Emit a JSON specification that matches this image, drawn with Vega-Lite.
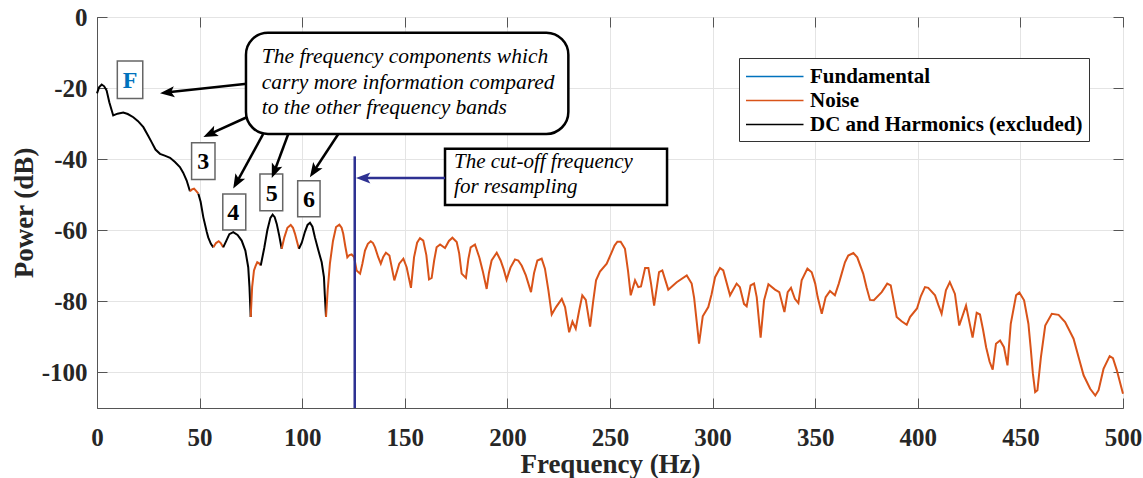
{
  "$schema": "https://vega.github.io/schema/vega-lite/v6.json",
  "width": 1026,
  "height": 391,
  "autosize": {"type": "none"},
  "padding": {"left": 97, "top": 17, "right": 20, "bottom": 70},
  "background": "white",
  "datasets": {
    "spec": [
      {"f":0,"p":-21.5,"s":"d1","t":"D"},{"f":1,"p":-19.8,"s":"d1","t":"D"},{"f":2.3,"p":-19,"s":"d1","t":"D"},{"f":3.5,"p":-19.5,"s":"d1","t":"D"},{"f":4.7,"p":-20.7,"s":"d1","t":"D"},{"f":6,"p":-24,"s":"d1","t":"D"},{"f":7.9,"p":-27.7,"s":"d1","t":"D"},{"f":10,"p":-27.2,"s":"d1","t":"D"},{"f":12.8,"p":-26.9,"s":"d1","t":"D"},{"f":15,"p":-27.3,"s":"d1","t":"D"},{"f":17.7,"p":-28.2,"s":"d1","t":"D"},{"f":20,"p":-29.3,"s":"d1","t":"D"},{"f":22.6,"p":-31,"s":"d1","t":"D"},{"f":25,"p":-33.5,"s":"d1","t":"D"},{"f":26.6,"p":-35.2,"s":"d1","t":"D"},{"f":28.5,"p":-37.3,"s":"d1","t":"D"},{"f":30.7,"p":-38.5,"s":"d1","t":"D"},{"f":33,"p":-39,"s":"d1","t":"D"},{"f":35.6,"p":-39.6,"s":"d1","t":"D"},{"f":38,"p":-40.8,"s":"d1","t":"D"},{"f":40.4,"p":-42.2,"s":"d1","t":"D"},{"f":42,"p":-43.8,"s":"d1","t":"D"},{"f":43.7,"p":-46,"s":"d1","t":"D"},{"f":45.3,"p":-49,"s":"d1","t":"D"},
      {"f":45.3,"p":-49,"s":"n1","t":"N"},{"f":46.3,"p":-48.5,"s":"n1","t":"N"},{"f":47.3,"p":-48.3,"s":"n1","t":"N"},{"f":48.4,"p":-49,"s":"n1","t":"N"},{"f":49.4,"p":-49.7,"s":"n1","t":"N"},
      {"f":49.4,"p":-49.7,"s":"d2","t":"D"},{"f":50.5,"p":-52,"s":"d2","t":"D"},{"f":51.8,"p":-56.3,"s":"d2","t":"D"},{"f":53.5,"p":-60.5,"s":"d2","t":"D"},{"f":54.2,"p":-62,"s":"d2","t":"D"},{"f":55.5,"p":-63.8,"s":"d2","t":"D"},{"f":56.7,"p":-64.8,"s":"d2","t":"D"},
      {"f":56.7,"p":-64.8,"s":"n2","t":"N"},{"f":58,"p":-63.6,"s":"n2","t":"N"},{"f":59.3,"p":-63.1,"s":"n2","t":"N"},{"f":60.3,"p":-63.6,"s":"n2","t":"N"},{"f":61.5,"p":-64.8,"s":"n2","t":"N"},
      {"f":61.5,"p":-64.8,"s":"d3","t":"D"},{"f":63,"p":-63,"s":"d3","t":"D"},{"f":64.5,"p":-61.1,"s":"d3","t":"D"},{"f":66.4,"p":-60.5,"s":"d3","t":"D"},{"f":68.5,"p":-61.3,"s":"d3","t":"D"},{"f":70.5,"p":-62.9,"s":"d3","t":"D"},{"f":72.3,"p":-65.7,"s":"d3","t":"D"},{"f":73.7,"p":-70.4,"s":"d3","t":"D"},{"f":74.3,"p":-76,"s":"d3","t":"D"},{"f":74.9,"p":-84.4,"s":"d3","t":"D"},
      {"f":74.9,"p":-84.4,"s":"n3","t":"N"},{"f":75.6,"p":-76,"s":"n3","t":"N"},{"f":76.5,"p":-71.3,"s":"n3","t":"N"},{"f":77.3,"p":-70,"s":"n3","t":"N"},{"f":78.1,"p":-69,"s":"n3","t":"N"},{"f":79,"p":-69.3,"s":"n3","t":"N"},{"f":79.8,"p":-69.9,"s":"n3","t":"N"},
      {"f":79.8,"p":-69.9,"s":"d4","t":"D"},{"f":81.5,"p":-65,"s":"d4","t":"D"},{"f":83,"p":-60,"s":"d4","t":"D"},{"f":84.5,"p":-56.5,"s":"d4","t":"D"},{"f":85.6,"p":-55.6,"s":"d4","t":"D"},{"f":86.6,"p":-56.3,"s":"d4","t":"D"},{"f":87.6,"p":-58.2,"s":"d4","t":"D"},{"f":88.8,"p":-61.5,"s":"d4","t":"D"},{"f":90,"p":-65.2,"s":"d4","t":"D"},
      {"f":90,"p":-65.2,"s":"n4","t":"N"},{"f":91.3,"p":-62,"s":"n4","t":"N"},{"f":92.8,"p":-59.3,"s":"n4","t":"N"},{"f":94.4,"p":-58.5,"s":"n4","t":"N"},{"f":95.5,"p":-59.3,"s":"n4","t":"N"},{"f":96.5,"p":-61,"s":"n4","t":"N"},{"f":97.5,"p":-63.2,"s":"n4","t":"N"},{"f":98.4,"p":-65.2,"s":"n4","t":"N"},
      {"f":98.4,"p":-65.2,"s":"d5","t":"D"},{"f":99.8,"p":-63.5,"s":"d5","t":"D"},{"f":101.3,"p":-60.5,"s":"d5","t":"D"},{"f":102.6,"p":-58.5,"s":"d5","t":"D"},{"f":103.8,"p":-57.9,"s":"d5","t":"D"},{"f":105,"p":-59,"s":"d5","t":"D"},{"f":106.2,"p":-62,"s":"d5","t":"D"},{"f":107.8,"p":-65.5,"s":"d5","t":"D"},{"f":109.5,"p":-69,"s":"d5","t":"D"},{"f":110.6,"p":-73.2,"s":"d5","t":"D"},{"f":111,"p":-78,"s":"d5","t":"D"},{"f":111.6,"p":-84.4,"s":"d5","t":"D"},
      {"f":111.6,"p":-84.4,"s":"n5","t":"N"},{"f":112.4,"p":-77,"s":"n5","t":"N"},{"f":113.5,"p":-69.4,"s":"n5","t":"N"},{"f":115,"p":-63,"s":"n5","t":"N"},{"f":116.5,"p":-59.1,"s":"n5","t":"N"},{"f":118.1,"p":-58.4,"s":"n5","t":"N"},{"f":119.2,"p":-59.3,"s":"n5","t":"N"},{"f":120,"p":-61,"s":"n5","t":"N"},{"f":121,"p":-64.5,"s":"n5","t":"N"},{"f":122,"p":-67.6,"s":"n5","t":"N"},{"f":123,"p":-67,"s":"n5","t":"N"},{"f":124.1,"p":-66.8,"s":"n5","t":"N"},{"f":125.3,"p":-67.5,"s":"n5","t":"N"},{"f":126.5,"p":-71.3,"s":"n5","t":"N"},{"f":128.2,"p":-72.2,"s":"n5","t":"N"},{"f":129.3,"p":-69.5,"s":"n5","t":"N"},{"f":130.6,"p":-65.7,"s":"n5","t":"N"},{"f":132,"p":-63.8,"s":"n5","t":"N"},{"f":133.4,"p":-63.1,"s":"n5","t":"N"},{"f":134.5,"p":-63.6,"s":"n5","t":"N"},{"f":135.5,"p":-64.8,"s":"n5","t":"N"},{"f":137,"p":-67.5,"s":"n5","t":"N"},{"f":138.3,"p":-69.4,"s":"n5","t":"N"},{"f":139.5,"p":-67.5,"s":"n5","t":"N"},{"f":140.8,"p":-66.3,"s":"n5","t":"N"},{"f":142.5,"p":-67.1,"s":"n5","t":"N"},{"f":144.9,"p":-74.1,"s":"n5","t":"N"},{"f":147.3,"p":-69.4,"s":"n5","t":"N"},{"f":149.3,"p":-68,"s":"n5","t":"N"},{"f":150.9,"p":-70.4,"s":"n5","t":"N"},{"f":153,"p":-76.2,"s":"n5","t":"N"},{"f":154.5,"p":-67.6,"s":"n5","t":"N"},{"f":156,"p":-63.5,"s":"n5","t":"N"},{"f":157.4,"p":-62.2,"s":"n5","t":"N"},{"f":159,"p":-62.9,"s":"n5","t":"N"},{"f":160.5,"p":-67,"s":"n5","t":"N"},{"f":161.8,"p":-73.8,"s":"n5","t":"N"},{"f":163.1,"p":-73.4,"s":"n5","t":"N"},{"f":164.3,"p":-68.5,"s":"n5","t":"N"},{"f":165.5,"p":-64.8,"s":"n5","t":"N"},{"f":167.2,"p":-64,"s":"n5","t":"N"},{"f":169.6,"p":-65,"s":"n5","t":"N"},{"f":171.5,"p":-63,"s":"n5","t":"N"},{"f":173.2,"p":-62.1,"s":"n5","t":"N"},{"f":175.3,"p":-63.3,"s":"n5","t":"N"},{"f":176.5,"p":-66.5,"s":"n5","t":"N"},{"f":177.7,"p":-72.2,"s":"n5","t":"N"},{"f":179.8,"p":-73.4,"s":"n5","t":"N"},{"f":181,"p":-68,"s":"n5","t":"N"},{"f":182.1,"p":-64.8,"s":"n5","t":"N"},{"f":184.2,"p":-64,"s":"n5","t":"N"},{"f":186.3,"p":-67.6,"s":"n5","t":"N"},{"f":188,"p":-71.5,"s":"n5","t":"N"},{"f":189.9,"p":-76.5,"s":"n5","t":"N"},{"f":191,"p":-72,"s":"n5","t":"N"},{"f":192.3,"p":-68.5,"s":"n5","t":"N"},{"f":194.8,"p":-66.3,"s":"n5","t":"N"},{"f":196.7,"p":-68.5,"s":"n5","t":"N"},{"f":198.2,"p":-71,"s":"n5","t":"N"},{"f":199.6,"p":-73.9,"s":"n5","t":"N"},{"f":201.5,"p":-70.5,"s":"n5","t":"N"},{"f":203.7,"p":-68.2,"s":"n5","t":"N"},{"f":205.3,"p":-68.5,"s":"n5","t":"N"},{"f":207,"p":-70,"s":"n5","t":"N"},{"f":209,"p":-72.7,"s":"n5","t":"N"},{"f":211.5,"p":-77.4,"s":"n5","t":"N"},{"f":213,"p":-72,"s":"n5","t":"N"},{"f":214.6,"p":-68.5,"s":"n5","t":"N"},{"f":216.7,"p":-68,"s":"n5","t":"N"},{"f":218.3,"p":-70.8,"s":"n5","t":"N"},{"f":220,"p":-77,"s":"n5","t":"N"},{"f":221.6,"p":-83.7,"s":"n5","t":"N"},{"f":223.7,"p":-81.6,"s":"n5","t":"N"},{"f":226.5,"p":-79.3,"s":"n5","t":"N"},{"f":228.1,"p":-81.6,"s":"n5","t":"N"},{"f":230.1,"p":-88.7,"s":"n5","t":"N"},{"f":231.7,"p":-85.7,"s":"n5","t":"N"},{"f":233.3,"p":-87.7,"s":"n5","t":"N"},{"f":235,"p":-82.5,"s":"n5","t":"N"},{"f":236.5,"p":-78.3,"s":"n5","t":"N"},{"f":238.2,"p":-79.6,"s":"n5","t":"N"},{"f":240.3,"p":-87.1,"s":"n5","t":"N"},{"f":241.8,"p":-80,"s":"n5","t":"N"},{"f":243.2,"p":-74.1,"s":"n5","t":"N"},{"f":245.1,"p":-71.6,"s":"n5","t":"N"},{"f":248.4,"p":-69.4,"s":"n5","t":"N"},{"f":250.8,"p":-66.2,"s":"n5","t":"N"},{"f":252.2,"p":-64.3,"s":"n5","t":"N"},{"f":253.6,"p":-63.2,"s":"n5","t":"N"},{"f":255.2,"p":-63.2,"s":"n5","t":"N"},{"f":257.3,"p":-65.2,"s":"n5","t":"N"},{"f":258.8,"p":-71.5,"s":"n5","t":"N"},{"f":260.1,"p":-78.3,"s":"n5","t":"N"},{"f":262.2,"p":-74.1,"s":"n5","t":"N"},{"f":263.8,"p":-76,"s":"n5","t":"N"},{"f":265.1,"p":-75.8,"s":"n5","t":"N"},{"f":267.1,"p":-70.6,"s":"n5","t":"N"},{"f":268.7,"p":-70.6,"s":"n5","t":"N"},{"f":270,"p":-75,"s":"n5","t":"N"},{"f":271.5,"p":-81.2,"s":"n5","t":"N"},{"f":273.9,"p":-71.8,"s":"n5","t":"N"},{"f":275.5,"p":-71.3,"s":"n5","t":"N"},{"f":278.4,"p":-76.7,"s":"n5","t":"N"},{"f":282.5,"p":-74.6,"s":"n5","t":"N"},{"f":287.4,"p":-72.7,"s":"n5","t":"N"},{"f":289.8,"p":-75,"s":"n5","t":"N"},{"f":291,"p":-79,"s":"n5","t":"N"},{"f":292.2,"p":-85.4,"s":"n5","t":"N"},{"f":293.4,"p":-91.9,"s":"n5","t":"N"},{"f":295.2,"p":-84.2,"s":"n5","t":"N"},{"f":297.9,"p":-81.6,"s":"n5","t":"N"},{"f":299.5,"p":-78,"s":"n5","t":"N"},{"f":301.2,"p":-73.2,"s":"n5","t":"N"},{"f":303.6,"p":-70.6,"s":"n5","t":"N"},{"f":305.2,"p":-71.3,"s":"n5","t":"N"},{"f":308.5,"p":-78.3,"s":"n5","t":"N"},{"f":311.7,"p":-75,"s":"n5","t":"N"},{"f":313.3,"p":-76,"s":"n5","t":"N"},{"f":315.3,"p":-80.7,"s":"n5","t":"N"},{"f":316.6,"p":-81.4,"s":"n5","t":"N"},{"f":318.5,"p":-75.5,"s":"n5","t":"N"},{"f":320.2,"p":-75,"s":"n5","t":"N"},{"f":321.5,"p":-78.8,"s":"n5","t":"N"},{"f":323.4,"p":-90.2,"s":"n5","t":"N"},{"f":325.1,"p":-79.7,"s":"n5","t":"N"},{"f":327.2,"p":-75.2,"s":"n5","t":"N"},{"f":330.4,"p":-76.7,"s":"n5","t":"N"},{"f":332.5,"p":-77.4,"s":"n5","t":"N"},{"f":335,"p":-83,"s":"n5","t":"N"},{"f":336.6,"p":-77.4,"s":"n5","t":"N"},{"f":338.2,"p":-76.2,"s":"n5","t":"N"},{"f":340.1,"p":-79.3,"s":"n5","t":"N"},{"f":341.8,"p":-80.5,"s":"n5","t":"N"},{"f":343.4,"p":-74.1,"s":"n5","t":"N"},{"f":346.2,"p":-70.8,"s":"n5","t":"N"},{"f":348.3,"p":-71.8,"s":"n5","t":"N"},{"f":350,"p":-75,"s":"n5","t":"N"},{"f":351.2,"p":-78.8,"s":"n5","t":"N"},{"f":353.2,"p":-83.5,"s":"n5","t":"N"},{"f":355.1,"p":-78.8,"s":"n5","t":"N"},{"f":357.2,"p":-77.1,"s":"n5","t":"N"},{"f":359.6,"p":-78.3,"s":"n5","t":"N"},{"f":361.5,"p":-75,"s":"n5","t":"N"},{"f":362.9,"p":-72.2,"s":"n5","t":"N"},{"f":364.5,"p":-69,"s":"n5","t":"N"},{"f":366.1,"p":-67.1,"s":"n5","t":"N"},{"f":368.6,"p":-66.4,"s":"n5","t":"N"},{"f":370.5,"p":-67.6,"s":"n5","t":"N"},{"f":373.4,"p":-72.2,"s":"n5","t":"N"},{"f":375,"p":-76,"s":"n5","t":"N"},{"f":376.7,"p":-79.6,"s":"n5","t":"N"},{"f":378.6,"p":-79.7,"s":"n5","t":"N"},{"f":382.4,"p":-77.4,"s":"n5","t":"N"},{"f":385.1,"p":-75,"s":"n5","t":"N"},{"f":386.8,"p":-75.5,"s":"n5","t":"N"},{"f":388.3,"p":-80,"s":"n5","t":"N"},{"f":389.7,"p":-84.4,"s":"n5","t":"N"},{"f":392.1,"p":-85.6,"s":"n5","t":"N"},{"f":394.6,"p":-86.6,"s":"n5","t":"N"},{"f":396.2,"p":-84.4,"s":"n5","t":"N"},{"f":399.6,"p":-82,"s":"n5","t":"N"},{"f":401.5,"p":-78.5,"s":"n5","t":"N"},{"f":403.5,"p":-76,"s":"n5","t":"N"},{"f":405.1,"p":-76.2,"s":"n5","t":"N"},{"f":408.4,"p":-78.3,"s":"n5","t":"N"},{"f":410,"p":-81,"s":"n5","t":"N"},{"f":411.6,"p":-83.5,"s":"n5","t":"N"},{"f":413.7,"p":-76.9,"s":"n5","t":"N"},{"f":415.6,"p":-74.6,"s":"n5","t":"N"},{"f":418.1,"p":-77.9,"s":"n5","t":"N"},{"f":420.2,"p":-86.8,"s":"n5","t":"N"},{"f":423.5,"p":-81.2,"s":"n5","t":"N"},{"f":426.7,"p":-90.2,"s":"n5","t":"N"},{"f":428.7,"p":-83.2,"s":"n5","t":"N"},{"f":430.3,"p":-83.7,"s":"n5","t":"N"},{"f":431.8,"p":-88,"s":"n5","t":"N"},{"f":433.3,"p":-92.9,"s":"n5","t":"N"},{"f":435,"p":-97,"s":"n5","t":"N"},{"f":436.5,"p":-99.2,"s":"n5","t":"N"},{"f":438.1,"p":-91.9,"s":"n5","t":"N"},{"f":440.1,"p":-91,"s":"n5","t":"N"},{"f":442,"p":-92.9,"s":"n5","t":"N"},{"f":443.7,"p":-98,"s":"n5","t":"N"},{"f":445.3,"p":-86.3,"s":"n5","t":"N"},{"f":447.9,"p":-78.3,"s":"n5","t":"N"},{"f":449.5,"p":-77.5,"s":"n5","t":"N"},{"f":451.8,"p":-79.7,"s":"n5","t":"N"},{"f":453.9,"p":-86.3,"s":"n5","t":"N"},{"f":455,"p":-93,"s":"n5","t":"N"},{"f":456.1,"p":-100.4,"s":"n5","t":"N"},{"f":457.2,"p":-105.5,"s":"n5","t":"N"},{"f":458.3,"p":-105,"s":"n5","t":"N"},{"f":460,"p":-95.7,"s":"n5","t":"N"},{"f":462.1,"p":-86.8,"s":"n5","t":"N"},{"f":465.3,"p":-83.5,"s":"n5","t":"N"},{"f":468.6,"p":-83.8,"s":"n5","t":"N"},{"f":471.8,"p":-85.8,"s":"n5","t":"N"},{"f":475.9,"p":-90.5,"s":"n5","t":"N"},{"f":478.5,"p":-96,"s":"n5","t":"N"},{"f":480.8,"p":-100.8,"s":"n5","t":"N"},{"f":484,"p":-104.6,"s":"n5","t":"N"},{"f":486.5,"p":-106.5,"s":"n5","t":"N"},{"f":488.1,"p":-105,"s":"n5","t":"N"},{"f":490.5,"p":-99,"s":"n5","t":"N"},{"f":493.5,"p":-95.4,"s":"n5","t":"N"},{"f":495.1,"p":-96,"s":"n5","t":"N"},{"f":497,"p":-99.4,"s":"n5","t":"N"},{"f":500,"p":-106,"s":"n5","t":"N"}
    ],
    "cut": [{"f": 125.6, "p": -39.2, "p2": -110}],
    "callout": [{"f": 72.6, "f2": 229.7, "p": -4.42, "p2": -32.9}],
    "cutbox": [{"f": 169.6, "f2": 277.8, "p": -37.1, "p2": -52.9}],
    "boxes": [
      {"f": 9.9, "f2": 22.3, "p": -12.4, "p2": -22.9},
      {"f": 46.1, "f2": 57.5, "p": -35.4, "p2": -45.7},
      {"f": 61.3, "f2": 72.5, "p": -49.8, "p2": -59.9},
      {"f": 79.4, "f2": 90.5, "p": -44.2, "p2": -54.5},
      {"f": 97.8, "f2": 108.7, "p": -46.1, "p2": -56.2}
    ],
    "nums": [
      {"f": 51.8, "p": -42.85, "txt": "3"},
      {"f": 66.4, "p": -57.1, "txt": "4"},
      {"f": 85.1, "p": -51.7, "txt": "5"},
      {"f": 103.3, "p": -53.5, "txt": "6"}
    ],
    "flab": [{"f": 16.1, "p": -20.06, "txt": "F"}],
    "callouttext": [
      {"f": 80.3, "p": -13.03, "txt": "The frequency components which"},
      {"f": 80.3, "p": -20.34, "txt": "carry more information compared"},
      {"f": 80.3, "p": -27.37, "txt": "to the other frequency bands"}
    ],
    "cuttext": [
      {"f": 174.0, "p": -42.57, "txt": "The cut-off frequency"},
      {"f": 174.0, "p": -49.6, "txt": "for resampling"}
    ],
    "arrows": [
      {"f": 73.0, "p": -18.8, "f2": 34.6, "p2": -21.2, "ang": 264.1},
      {"f": 73.0, "p": -28.2, "f2": 55.4, "p2": -32.8, "ang": 245.6},
      {"f": 81.0, "p": -32.9, "f2": 68.3, "p2": -46.3, "ang": 209.4},
      {"f": 93.2, "p": -32.9, "f2": 86.6, "p2": -43.2, "ang": 201.6},
      {"f": 117.6, "p": -32.9, "f2": 105.9, "p2": -43.2, "ang": 213.7}
    ],
    "bluearrow": [{"f": 169.6, "p": -45.3, "f2": 130.1, "p2": -45.3, "ang": 270}]
  },
  "resolve": {"axis": {"x": "independent", "y": "independent"}},
  "layer": [
    {
      "data": {"name": "spec"},
      "mark": {"type": "line", "strokeWidth": 2},
      "encoding": {
        "x": {"field": "f", "type": "quantitative",
          "scale": {"domain": [0, 500], "nice": false, "zero": false},
          "axis": {"orient": "bottom", "values": [0,50,100,150,200,250,300,350,400,450,500], "grid": true, "labelPadding": 27, "title": "Frequency (Hz)", "titlePadding": 1, "labelExpr": "'' + datum.value"}},
        "y": {"field": "p", "type": "quantitative",
          "scale": {"domain": [-110, 0], "nice": false, "zero": false},
          "axis": {"orient": "left", "values": [-100,-80,-60,-40,-20,0], "grid": true, "labelPadding": 20, "title": "Power (dB)", "titlePadding": 3, "labelExpr": "'' + datum.value"}},
        "color": {"field": "t", "type": "nominal",
          "scale": {"domain": ["F", "N", "D"], "range": ["#0072BD", "#D95319", "#000000"]},
          "legend": {"title": null, "orient": "none", "legendX": 642, "legendY": 41,
            "symbolType": "M-1,0H4", "symbolSize": 529, "symbolStrokeWidth": 1.3,
            "labelOffset": 40, "labelFont": "Liberation Serif", "labelFontWeight": "bold", "labelFontSize": 21, "labelColor": "#000000",
            "labelLimit": 400, "padding": 6, "rowPadding": 1, "strokeColor": "#333333", "fillColor": "white",
            "labelExpr": "datum.label == 'F' ? 'Fundamental' : datum.label == 'N' ? 'Noise' : 'DC and Harmonics (excluded)'"}},
        "detail": {"field": "s"}
      }
    },
    {
      "data": {"name": "cut"},
      "mark": {"type": "rule", "color": "#2E3192", "strokeWidth": 2.5},
      "encoding": {
        "x": {"field": "f", "type": "quantitative",
          "axis": {"orient": "top", "values": [0,50,100,150,200,250,300,350,400,450,500], "labels": false, "grid": false, "domain": false, "title": null}},
        "y": {"field": "p", "type": "quantitative",
          "axis": {"orient": "right", "values": [-100,-80,-60,-40,-20,0], "labels": false, "grid": false, "domain": false, "title": null}},
        "y2": {"field": "p2"}
      }
    },
    {
      "data": {"name": "callout"},
      "mark": {"type": "rect", "fill": "white", "stroke": "black", "strokeWidth": 2.5, "cornerRadius": 22},
      "encoding": {
        "x": {"field": "f", "type": "quantitative", "axis": null}, "x2": {"field": "f2"},
        "y": {"field": "p", "type": "quantitative", "axis": null}, "y2": {"field": "p2"}
      }
    },
    {
      "data": {"name": "cutbox"},
      "mark": {"type": "rect", "fill": "white", "stroke": "black", "strokeWidth": 2.5},
      "encoding": {
        "x": {"field": "f", "type": "quantitative", "axis": null}, "x2": {"field": "f2"},
        "y": {"field": "p", "type": "quantitative", "axis": null}, "y2": {"field": "p2"}
      }
    },
    {
      "data": {"name": "boxes"},
      "mark": {"type": "rect", "fill": "white", "stroke": "#666666", "strokeWidth": 1.5},
      "encoding": {
        "x": {"field": "f", "type": "quantitative", "axis": null}, "x2": {"field": "f2"},
        "y": {"field": "p", "type": "quantitative", "axis": null}, "y2": {"field": "p2"}
      }
    },
    {
      "data": {"name": "arrows"},
      "mark": {"type": "rule", "color": "black", "strokeWidth": 2.5},
      "encoding": {
        "x": {"field": "f", "type": "quantitative", "axis": null}, "x2": {"field": "f2"},
        "y": {"field": "p", "type": "quantitative", "axis": null}, "y2": {"field": "p2"}
      }
    },
    {
      "data": {"name": "arrows"},
      "mark": {"type": "point", "shape": "M0,-1L0.7,0.8L0,0.4L-0.7,0.8Z", "filled": true, "color": "black", "size": 256, "opacity": 1},
      "encoding": {
        "x": {"field": "f2", "type": "quantitative", "axis": null},
        "y": {"field": "p2", "type": "quantitative", "axis": null},
        "angle": {"field": "ang", "type": "quantitative", "scale": null}
      }
    },
    {
      "data": {"name": "bluearrow"},
      "mark": {"type": "rule", "color": "#2E3192", "strokeWidth": 2.5},
      "encoding": {
        "x": {"field": "f", "type": "quantitative", "axis": null}, "x2": {"field": "f2"},
        "y": {"field": "p", "type": "quantitative", "axis": null}, "y2": {"field": "p2"}
      }
    },
    {
      "data": {"name": "bluearrow"},
      "mark": {"type": "point", "shape": "M0,-1L0.7,0.8L0,0.4L-0.7,0.8Z", "filled": true, "color": "#2E3192", "size": 256, "opacity": 1},
      "encoding": {
        "x": {"field": "f2", "type": "quantitative", "axis": null},
        "y": {"field": "p2", "type": "quantitative", "axis": null},
        "angle": {"field": "ang", "type": "quantitative", "scale": null}
      }
    },
    {
      "data": {"name": "callouttext"},
      "mark": {"type": "text", "align": "left", "baseline": "alphabetic", "font": "Liberation Serif", "fontStyle": "italic", "fontSize": 21.5, "color": "black"},
      "encoding": {
        "x": {"field": "f", "type": "quantitative", "axis": null},
        "y": {"field": "p", "type": "quantitative", "axis": null},
        "text": {"field": "txt"}
      }
    },
    {
      "data": {"name": "cuttext"},
      "mark": {"type": "text", "align": "left", "baseline": "alphabetic", "font": "Liberation Serif", "fontStyle": "italic", "fontSize": 21, "color": "black"},
      "encoding": {
        "x": {"field": "f", "type": "quantitative", "axis": null},
        "y": {"field": "p", "type": "quantitative", "axis": null},
        "text": {"field": "txt"}
      }
    },
    {
      "data": {"name": "nums"},
      "mark": {"type": "text", "align": "center", "baseline": "alphabetic", "font": "Liberation Serif", "fontWeight": "bold", "fontSize": 24, "color": "black"},
      "encoding": {
        "x": {"field": "f", "type": "quantitative", "axis": null},
        "y": {"field": "p", "type": "quantitative", "axis": null},
        "text": {"field": "txt"}
      }
    },
    {
      "data": {"name": "flab"},
      "mark": {"type": "text", "align": "center", "baseline": "alphabetic", "font": "Liberation Serif", "fontWeight": "bold", "fontSize": 24, "color": "#0072BD"},
      "encoding": {
        "x": {"field": "f", "type": "quantitative", "axis": null},
        "y": {"field": "p", "type": "quantitative", "axis": null},
        "text": {"field": "txt"}
      }
    }
  ],
  "config": {
    "view": {"stroke": "#555555", "strokeWidth": 1},
    "axis": {
      "labelFont": "Liberation Serif", "labelFontWeight": "bold", "labelFontSize": 25, "labelColor": "#262626",
      "titleFont": "Liberation Serif", "titleFontWeight": "bold", "titleFontSize": 27, "titleColor": "#262626",
      "tickSize": -10, "tickColor": "#555555", "tickWidth": 1, "domainColor": "#555555", "domainWidth": 1,
      "gridColor": "#e4e4e4", "gridWidth": 1, "labelFlush": false, "labelOverlap": false
    }
  }
}
